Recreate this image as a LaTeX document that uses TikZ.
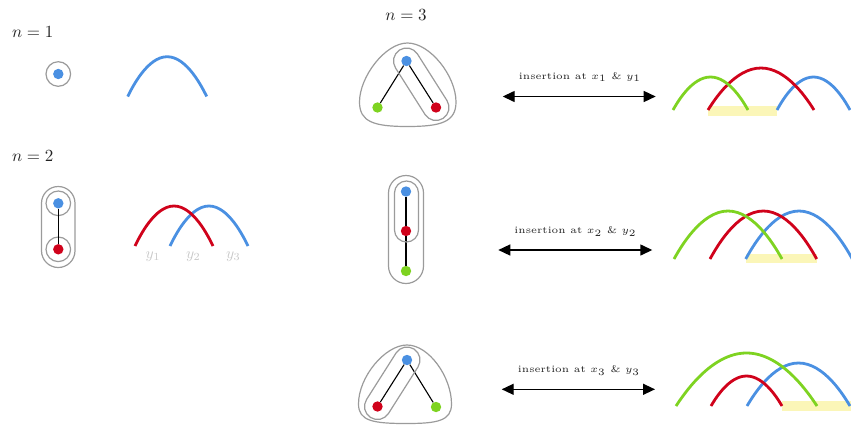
\documentclass[tikz,border=0pt]{standalone}
\usetikzlibrary{arrows.meta,calc}
\definecolor{cblue}{HTML}{4A90E2}
\definecolor{cred}{HTML}{D0021B}
\definecolor{cgreen}{HTML}{7ED321}
\definecolor{cgray}{HTML}{9B9B9B}
\definecolor{cyel}{HTML}{FBF6B8}
\definecolor{clab}{HTML}{C8C8C8}
\definecolor{ctext}{HTML}{222222}
\begin{document}
\begin{tikzpicture}[x=1pt,y=1pt,yscale=-1,
  dot/.style={circle,inner sep=0pt,minimum size=10.4pt},
  ring/.style={circle,draw=cgray,line width=1.2pt,inner sep=0pt,minimum size=24.6pt},
  hull/.style={draw=cgray,line width=1.2pt},
  edgeline/.style={line width=1.1pt,black},
  arcl/.style={line width=2.8pt},
  nlab/.style={text=ctext,scale=1.7,anchor=base west,inner sep=0pt},
  ylab/.style={text=clab,scale=1.55,anchor=base,inner sep=0pt},
  ins/.style={text=ctext,scale=1.96,font=\tiny,anchor=base,inner sep=0pt},
  dbl/.style={line width=1.4pt,{Triangle[length=12pt,width=11pt]}-{Triangle[length=12pt,width=11pt]}},
  hl/.style={fill=cyel}
]
\useasboundingbox (0,0) rectangle (851,426);

% titles
\node[nlab] (n1) at (11.7,37.3) {$n=1$};
\node[nlab] (n2) at (11.7,161.7) {$n=2$};
\node[nlab] (n3) at (385,20) {$n=3$};

% n = 1
\node[dot,fill=cblue] (a1) at (58.3,74) {};
\node[ring] (a1r) at (a1) {};
\draw[arcl,cblue] (127.7,96.5) parabola bend (167.2,56.7) (206.7,96.5);

% n = 2
\node[dot,fill=cblue] (b1) at (58.3,203.3) {};
\node[dot,fill=cred] (b2) at (58.3,249.3) {};
\node[ring] (b1r) at (b1) {};
\node[ring] (b2r) at (b2) {};
\draw[hull,rounded corners=16.75] (41.5,186.5) rectangle (75,267.5);
\draw[edgeline] (b1) -- (b2);
\draw[arcl,cblue] (170,246) parabola bend (209,206) (248,246);
\draw[arcl,cred] (135,246) parabola bend (174,206) (213,246);
\node[ylab] (y1) at (153,258.3) {$y_1$};
\node[ylab] (y2) at (193.3,258.3) {$y_2$};
\node[ylab] (y3) at (233.3,258.3) {$y_3$};

% n = 3, top
\node[dot,fill=cblue] (tb) at (406.5,61) {};
\node[dot,fill=cgreen] (tg) at (377.5,107.5) {};
\node[dot,fill=cred] (tr) at (436,107.5) {};
\draw[edgeline] (tb) -- (tg);
\draw[edgeline] (tb) -- (tr);
\draw[hull] ($(tr)+(-32.4:13)$) arc[start angle=-32.4,end angle=147.6,radius=13]
  -- ($(tb)+(147.6:13)$) arc[start angle=147.6,end angle=327.6,radius=13] -- cycle;
\draw[hull] (407.5,43) .. controls (430,43) and (456,76) .. (456,102)
  .. controls (456,122) and (441,126.5) .. (407.5,126.5)
  .. controls (374,126.5) and (359.5,122) .. (359.5,102)
  .. controls (359.5,77) and (385,43) .. cycle;

% n = 3, middle
\node[dot,fill=cblue] (mb) at (406,191.5) {};
\node[dot,fill=cred] (mr) at (406,231) {};
\node[dot,fill=cgreen] (mg) at (406,271) {};
\draw[edgeline] (mb) -- (mr);
\draw[edgeline] (mr) -- (mg);
\draw[hull,rounded corners=12] (394.5,181) rectangle (418.5,242);
\draw[hull,rounded corners=17.5] (388.5,175.5) rectangle (423.5,283.5);

% n = 3, bottom
\node[dot,fill=cblue] (ub) at (407,360) {};
\node[dot,fill=cred] (ur) at (377.5,406.5) {};
\node[dot,fill=cgreen] (ug) at (436,407) {};
\draw[edgeline] (ub) -- (ur);
\draw[edgeline] (ub) -- (ug);
\draw[hull] ($(ur)+(32.4:13)$) arc[start angle=32.4,end angle=212.4,radius=13]
  -- ($(ub)+(212.4:13)$) arc[start angle=212.4,end angle=392.4,radius=13] -- cycle;
\draw[hull] (407,345) .. controls (429,345) and (451.5,377) .. (451.5,404)
  .. controls (451.5,421) and (437,423.5) .. (406.5,423.5)
  .. controls (373,423.5) and (358.5,421) .. (358.5,404)
  .. controls (358.5,377) and (385,345) .. cycle;

% arrows
\coordinate (p1l) at (502.7,96.5);
\coordinate (p1r) at (655.7,96.5);
\coordinate (p2l) at (498.3,250);
\coordinate (p2r) at (652.3,250);
\coordinate (p3l) at (501.7,389.3);
\coordinate (p3r) at (655,389.3);
\draw[dbl] (p1l) -- (p1r);
\draw[dbl] (p2l) -- (p2r);
\draw[dbl] (p3l) -- (p3r);
\node[ins] (i1) at (580,79) {insertion at $x_1$ \& $y_1$};
\node[ins] (i2) at (575.5,233.3) {insertion at $x_2$ \& $y_2$};
\node[ins] (i3) at (579,372.7) {insertion at $x_3$ \& $y_3$};

% right arcs, top
\fill[hl] (708.3,105.7) rectangle (777.3,116);
\draw[arcl,cblue] (777,110) parabola bend (813.5,77) (850,110);
\draw[arcl,cred] (708,110) parabola bend (761,68) (814,110);
\draw[arcl,cgreen] (673,110) parabola bend (710.5,77) (748,110);

% right arcs, middle
\fill[hl] (745.7,254.3) rectangle (816.7,263.3);
\draw[arcl,cblue] (745.7,259) parabola bend (799,211) (852.3,259);
\draw[arcl,cred] (710,259) parabola bend (763.3,211) (816.7,259);
\draw[arcl,cgreen] (674,259) parabola bend (728,211) (782,259);

% right arcs, bottom
\fill[hl] (781.7,401) rectangle (851,410.7);
\draw[arcl,cblue] (747,406) parabola bend (798.5,363) (850,406);
\draw[arcl,cred] (711,406) parabola bend (746.5,376) (782,406);
\draw[arcl,cgreen] (676,406) parabola bend (746.5,353) (817,406);
\end{tikzpicture}
\end{document}
